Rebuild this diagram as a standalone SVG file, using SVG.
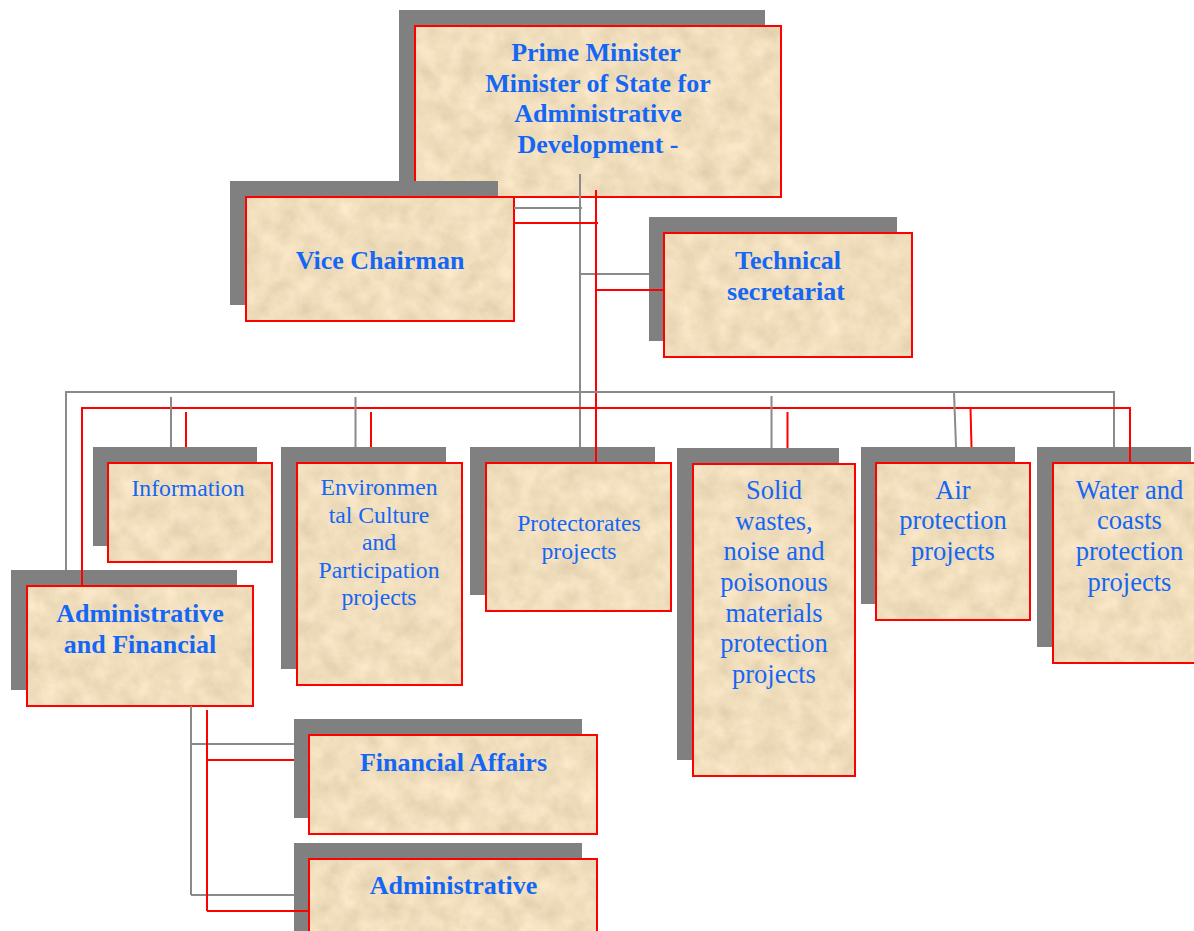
<svg xmlns="http://www.w3.org/2000/svg" width="1194" height="931" viewBox="0 0 1194 931">
<defs>
<filter id="parch" x="0" y="0" width="1" height="1" color-interpolation-filters="sRGB">
<feTurbulence type="fractalNoise" baseFrequency="0.05" numOctaves="4" seed="7" result="n"/>
<feColorMatrix in="n" type="matrix" values="0.13 0 0 0 0.875  0.13 0 0 0 0.805  0.15 0 0 0 0.665  0 0 0 0 1" result="c"/>
<feComposite in="c" in2="SourceGraphic" operator="in"/>
</filter>
</defs>
<style>
.sh{fill:#808080}
.fl{fill:#efdcb5;filter:url(#parch)}
.bd{fill:none;stroke:#ff0000;stroke-width:2}
.tb{font-family:"Liberation Serif",serif;font-weight:bold;font-size:26px;fill:#1466f5;text-anchor:middle}
.tr{font-family:"Liberation Serif",serif;font-size:26.5px;fill:#1466f5;text-anchor:middle}
.ts{font-family:"Liberation Serif",serif;font-size:23.7px;fill:#1466f5;text-anchor:middle}
.g{stroke:#8a8a8a;stroke-width:2;fill:none}
.r{stroke:#ff0000;stroke-width:2;fill:none}
</style>
<rect width="1194" height="931" fill="#ffffff"/>

<g id="prime-minister">
<rect class="sh" x="399" y="10" width="366" height="171"/>
<rect class="fl" x="415" y="26" width="366" height="171"/>
<rect class="bd" x="415" y="26" width="366" height="171"/>
<text class="tb" x="596" y="61">Prime Minister</text>
<text class="tb" x="598" y="91.5">Minister of State for</text>
<text class="tb" x="598" y="122">Administrative</text>
<text class="tb" x="598" y="152.5">Development -</text>
</g>

<g id="vice-chairman">
<rect class="sh" x="230" y="181" width="268" height="124"/>
<rect class="fl" x="246" y="197" width="268" height="124"/>
<rect class="bd" x="246" y="197" width="268" height="124"/>
<text class="tb" x="380" y="269">Vice Chairman</text>
</g>

<g id="technical-secretariat">
<rect class="sh" x="649" y="217" width="248" height="124"/>
<rect class="fl" x="664" y="233" width="248" height="124"/>
<rect class="bd" x="664" y="233" width="248" height="124"/>
<text class="tb" x="788" y="269">Technical</text>
<text class="tb" x="786" y="300">secretariat</text>
</g>

<g id="information">
<rect class="sh" x="93" y="447" width="164" height="99"/>
<rect class="fl" x="108" y="463" width="164" height="99"/>
<rect class="bd" x="108" y="463" width="164" height="99"/>
<text class="ts" x="188" y="496">Information</text>
</g>

<g id="environmental-culture">
<rect class="sh" x="281" y="447" width="165" height="222"/>
<rect class="fl" x="297" y="463" width="165" height="222"/>
<rect class="bd" x="297" y="463" width="165" height="222"/>
<text class="ts" x="379" y="495">Environmen</text>
<text class="ts" x="379" y="522.6">tal Culture</text>
<text class="ts" x="379" y="550.2">and</text>
<text class="ts" x="379" y="577.8">Participation</text>
<text class="ts" x="379" y="605.4">projects</text>
</g>

<g id="protectorates">
<rect class="sh" x="470" y="447" width="185" height="148"/>
<rect class="fl" x="486" y="463" width="185" height="148"/>
<rect class="bd" x="486" y="463" width="185" height="148"/>
<text class="ts" x="579" y="531">Protectorates</text>
<text class="ts" x="579" y="559">projects</text>
</g>

<g id="solid-wastes">
<rect class="sh" x="677" y="448" width="162" height="312"/>
<rect class="fl" x="693" y="464" width="162" height="312"/>
<rect class="bd" x="693" y="464" width="162" height="312"/>
<text class="tr" x="774" y="499">Solid</text>
<text class="tr" x="774" y="529.7">wastes,</text>
<text class="tr" x="774" y="560.3">noise and</text>
<text class="tr" x="774" y="591">poisonous</text>
<text class="tr" x="774" y="621.6">materials</text>
<text class="tr" x="774" y="652.3">protection</text>
<text class="tr" x="774" y="683">projects</text>
</g>

<g id="air-protection">
<rect class="sh" x="861" y="447" width="154" height="157"/>
<rect class="fl" x="876" y="463" width="154" height="157"/>
<rect class="bd" x="876" y="463" width="154" height="157"/>
<text class="tr" x="953" y="498.5">Air</text>
<text class="tr" x="953" y="529.2">protection</text>
<text class="tr" x="953" y="559.9">projects</text>
</g>

<g id="water-coasts">
<rect class="sh" x="1037" y="447" width="154" height="200"/>
<rect class="fl" x="1053" y="463" width="154" height="200"/>
<rect class="bd" x="1053" y="463" width="154" height="200"/>
<text class="tr" x="1129.5" y="498.7">Water and</text>
<text class="tr" x="1129.5" y="529.3">coasts</text>
<text class="tr" x="1129.5" y="560">protection</text>
<text class="tr" x="1129.5" y="590.6">projects</text>
</g>

<g id="administrative-financial">
<rect class="sh" x="11" y="570" width="226" height="120"/>
<rect class="fl" x="27" y="586" width="226" height="120"/>
<rect class="bd" x="27" y="586" width="226" height="120"/>
<text class="tb" x="140" y="622">Administrative</text>
<text class="tb" x="140" y="653">and Financial</text>
</g>

<g id="financial-affairs">
<rect class="sh" x="294" y="719" width="288" height="99"/>
<rect class="fl" x="309" y="735" width="288" height="99"/>
<rect class="bd" x="309" y="735" width="288" height="99"/>
<text class="tb" x="453.5" y="771">Financial Affairs</text>
</g>

<g id="administrative">
<rect class="sh" x="294" y="843" width="288" height="99"/>
<rect class="fl" x="309" y="859" width="288" height="99"/>
<rect class="bd" x="309" y="859" width="288" height="99"/>
<text class="tb" x="453.5" y="893.5">Administrative</text>
</g>

<g id="connectors">
<path class="g" d="M580 174V447M514 208H582M580 274H649"/>
<path class="r" d="M596 190V463M514 223H598M596 290H664"/>
<path class="g" d="M66 570V392H1114V447"/>
<path class="r" d="M82 586V408H1130V463"/>
<path class="g" d="M171 397V447M355.5 397V447M771.5 396V448M954 392L956 447"/>
<path class="r" d="M186 412V447M371 412V447M787.5 412V448M970.5 408L971.5 447"/>
<path class="g" d="M191 706V895M191 744H294M191 895H294"/>
<path class="r" d="M207 710V911M207 760H294M207 911H310"/>
</g>
</svg>
